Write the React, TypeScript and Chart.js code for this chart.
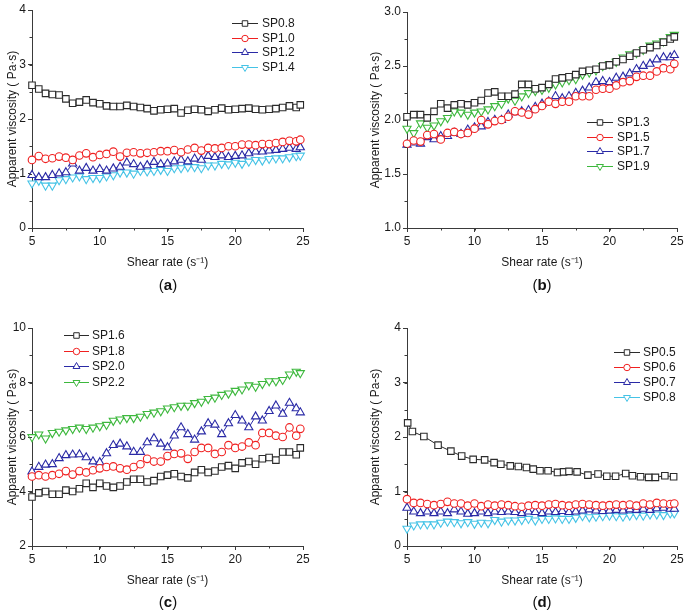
import React, { useEffect, useRef } from "react";
import { Chart, registerables } from "chart.js";

Chart.register(...registerables);

const FONT = "'Liberation Sans', Arial, Helvetica, sans-serif";
Chart.defaults.font.family = FONT;
Chart.defaults.font.size = 12;
Chart.defaults.color = "#1a1a1a";

const AX = "#3a3a3a";
const BLACK = "#2b2b2b";
const RED = "#f02020";
const BLUE = "#2a2aa6";
const CYAN = "#45c3e6";
const GREEN = "#3db83d";

// ---------- data ----------
const shearRate = [5.0, 5.5, 6.0, 6.5, 7.0, 7.5, 8.0, 8.5, 9.0, 9.5, 10.0, 10.5, 11.0, 11.5, 12.0, 12.5, 13.0, 13.5, 14.0, 14.5, 15.0, 15.5, 16.0, 16.5, 17.0, 17.5, 18.0, 18.5, 19.0, 19.5, 20.0, 20.5, 21.0, 21.5, 22.0, 22.5, 23.0, 23.5, 24.0, 24.5, 24.8];
const shearRateD05 = [5.05, 5.4, 6.25, 7.3, 8.25, 9.05, 9.9, 10.75, 11.45, 11.95, 12.65, 13.25, 13.85, 14.35, 14.85, 15.45, 16.15, 16.6, 17.0, 17.6, 18.4, 19.15, 19.8, 20.45, 21.2, 21.7, 22.3, 22.9, 23.4, 24.1, 24.75];

// (a)
const aNames = ["SP0.8", "SP1.0", "SP1.2", "SP1.4"];
const aSP08 = [2.62, 2.55, 2.47, 2.45, 2.44, 2.37, 2.29, 2.31, 2.35, 2.30, 2.28, 2.24, 2.23, 2.23, 2.25, 2.23, 2.21, 2.19, 2.15, 2.17, 2.18, 2.19, 2.11, 2.16, 2.18, 2.17, 2.14, 2.17, 2.20, 2.17, 2.18, 2.19, 2.20, 2.18, 2.17, 2.18, 2.19, 2.21, 2.24, 2.21, 2.26];
const aSP10 = [1.25, 1.32, 1.27, 1.28, 1.31, 1.29, 1.25, 1.33, 1.37, 1.30, 1.34, 1.36, 1.40, 1.31, 1.38, 1.39, 1.37, 1.38, 1.39, 1.41, 1.41, 1.43, 1.39, 1.44, 1.47, 1.42, 1.47, 1.46, 1.47, 1.50, 1.50, 1.53, 1.53, 1.52, 1.54, 1.54, 1.56, 1.58, 1.60, 1.59, 1.62];
const aSP12 = [0.97, 0.93, 0.93, 0.97, 1.00, 1.02, 1.18, 1.05, 1.10, 1.05, 1.08, 1.05, 1.09, 1.12, 1.20, 1.17, 1.12, 1.15, 1.21, 1.17, 1.18, 1.22, 1.25, 1.22, 1.27, 1.25, 1.32, 1.30, 1.33, 1.30, 1.32, 1.33, 1.37, 1.40, 1.40, 1.42, 1.43, 1.45, 1.47, 1.45, 1.48];
const aSP14 = [0.82, 0.87, 0.78, 0.78, 0.88, 0.90, 0.93, 0.95, 0.90, 0.92, 0.92, 0.95, 0.97, 1.02, 1.02, 1.00, 1.05, 1.04, 1.05, 1.07, 1.05, 1.10, 1.10, 1.12, 1.12, 1.10, 1.15, 1.15, 1.18, 1.17, 1.20, 1.18, 1.22, 1.25, 1.24, 1.27, 1.28, 1.28, 1.30, 1.32, 1.33];

// (b)
const bNames = ["SP1.3", "SP1.5", "SP1.7", "SP1.9"];
const bSP13 = [2.03, 2.05, 2.05, 2.02, 2.08, 2.15, 2.11, 2.14, 2.15, 2.14, 2.16, 2.18, 2.25, 2.26, 2.22, 2.22, 2.24, 2.33, 2.33, 2.29, 2.30, 2.33, 2.38, 2.39, 2.40, 2.42, 2.45, 2.46, 2.47, 2.50, 2.51, 2.54, 2.56, 2.59, 2.62, 2.65, 2.67, 2.69, 2.72, 2.75, 2.77];
const bSP15 = [1.78, 1.81, 1.80, 1.86, 1.87, 1.82, 1.88, 1.89, 1.87, 1.88, 1.92, 2.00, 1.96, 1.99, 2.00, 2.03, 2.08, 2.07, 2.05, 2.10, 2.13, 2.17, 2.15, 2.17, 2.17, 2.22, 2.22, 2.22, 2.28, 2.29, 2.29, 2.32, 2.35, 2.36, 2.40, 2.41, 2.41, 2.45, 2.48, 2.47, 2.52];
const bSP17 = [1.77, 1.79, 1.78, 1.84, 1.82, 1.85, 1.85, 1.88, 1.87, 1.91, 1.93, 1.94, 1.98, 2.00, 2.00, 2.05, 2.07, 2.08, 2.09, 2.12, 2.15, 2.17, 2.22, 2.20, 2.22, 2.25, 2.27, 2.30, 2.35, 2.36, 2.35, 2.39, 2.40, 2.43, 2.47, 2.50, 2.52, 2.56, 2.58, 2.58, 2.60];
const bSP19 = [1.92, 1.88, 1.97, 1.93, 1.95, 1.99, 2.02, 2.08, 2.07, 2.05, 2.07, 2.08, 2.10, 2.13, 2.15, 2.20, 2.18, 2.22, 2.25, 2.27, 2.28, 2.30, 2.33, 2.35, 2.37, 2.38, 2.42, 2.44, 2.46, 2.50, 2.52, 2.54, 2.58, 2.61, 2.62, 2.65, 2.69, 2.71, 2.73, 2.77, 2.79];

// (c)
const cNames = ["SP1.6", "SP1.8", "SP2.0", "SP2.2"];
const cSP16 = [3.80, 3.95, 4.00, 3.90, 3.90, 4.05, 4.00, 4.10, 4.30, 4.15, 4.30, 4.20, 4.15, 4.20, 4.35, 4.45, 4.45, 4.35, 4.40, 4.55, 4.60, 4.65, 4.55, 4.50, 4.70, 4.80, 4.70, 4.75, 4.90, 4.95, 4.85, 5.05, 5.10, 5.00, 5.20, 5.25, 5.15, 5.45, 5.45, 5.35, 5.60];
const cSP18 = [4.55, 4.60, 4.55, 4.60, 4.65, 4.75, 4.62, 4.75, 4.70, 4.78, 4.85, 4.90, 4.92, 4.85, 4.80, 4.90, 5.00, 5.20, 5.10, 5.10, 5.30, 5.38, 5.40, 5.20, 5.45, 5.60, 5.60, 5.38, 5.45, 5.70, 5.60, 5.65, 5.80, 5.70, 6.15, 6.15, 6.05, 6.00, 6.35, 6.05, 6.30];
const cSP20 = [4.73, 4.90, 4.98, 5.00, 5.22, 5.33, 5.35, 5.36, 5.25, 5.10, 5.07, 5.40, 5.70, 5.75, 5.65, 5.45, 5.45, 5.80, 5.95, 5.75, 5.62, 6.05, 6.35, 6.10, 5.90, 6.20, 6.50, 6.45, 6.10, 6.50, 6.80, 6.60, 6.35, 6.75, 6.60, 6.95, 7.15, 6.85, 7.25, 7.05, 6.90];
const cSP22 = [6.00, 6.10, 5.95, 6.15, 6.20, 6.25, 6.30, 6.35, 6.30, 6.35, 6.40, 6.45, 6.60, 6.65, 6.70, 6.70, 6.75, 6.85, 6.90, 6.95, 7.05, 7.10, 7.15, 7.15, 7.25, 7.30, 7.40, 7.45, 7.55, 7.60, 7.70, 7.75, 7.90, 7.85, 7.95, 8.05, 8.05, 8.10, 8.30, 8.40, 8.35];

// (d)
const dNames = ["SP0.5", "SP0.6", "SP0.7", "SP0.8"];
const dSP05 = [2.26, 2.10, 2.01, 1.85, 1.74, 1.65, 1.59, 1.58, 1.53, 1.50, 1.47, 1.46, 1.44, 1.41, 1.38, 1.38, 1.35, 1.36, 1.37, 1.36, 1.30, 1.32, 1.28, 1.28, 1.33, 1.29, 1.27, 1.26, 1.26, 1.29, 1.27];
const dSP06 = [0.86, 0.79, 0.79, 0.77, 0.75, 0.77, 0.81, 0.78, 0.78, 0.74, 0.78, 0.73, 0.76, 0.74, 0.76, 0.75, 0.73, 0.72, 0.74, 0.75, 0.74, 0.76, 0.77, 0.75, 0.74, 0.76, 0.77, 0.76, 0.75, 0.74, 0.75, 0.76, 0.75, 0.76, 0.74, 0.78, 0.76, 0.79, 0.78, 0.77, 0.78];
const dSP07 = [0.70, 0.63, 0.60, 0.63, 0.60, 0.63, 0.60, 0.67, 0.63, 0.59, 0.60, 0.63, 0.60, 0.63, 0.62, 0.63, 0.62, 0.60, 0.63, 0.62, 0.60, 0.63, 0.62, 0.64, 0.62, 0.63, 0.65, 0.67, 0.65, 0.64, 0.65, 0.66, 0.65, 0.67, 0.66, 0.68, 0.66, 0.69, 0.70, 0.68, 0.68];
const dSP08 = [0.32, 0.38, 0.40, 0.40, 0.40, 0.43, 0.45, 0.44, 0.42, 0.44, 0.41, 0.43, 0.42, 0.48, 0.45, 0.47, 0.47, 0.48, 0.50, 0.47, 0.50, 0.50, 0.51, 0.50, 0.50, 0.52, 0.55, 0.53, 0.54, 0.55, 0.56, 0.55, 0.54, 0.56, 0.57, 0.56, 0.58, 0.58, 0.57, 0.60, 0.60];

const yTicksA = [0, 4, 1, 0.5];
const yTicksB = [1, 3, 0.5, 0.25];
const yTicksC = [2, 10, 2, 1];
const yTicksD = [0, 4, 1, 0.5];

// ---------- styling ----------
const MARKERS = [
  { pointStyle: "rect", rotation: 0, radius: 4.6 },
  { pointStyle: "circle", rotation: 0, radius: 3.8 },
  { pointStyle: "triangle", rotation: 0, radius: 4.7 },
  { pointStyle: "triangle", rotation: 180, radius: 4.7 },
];

function markerPath(ctx: CanvasRenderingContext2D, style: string, rotation: number, r: number, x: number, y: number) {
  ctx.beginPath();
  if (style === "rect") {
    const s = r * Math.SQRT1_2;
    ctx.rect(x - s, y - s, 2 * s, 2 * s);
  } else if (style === "circle") {
    ctx.arc(x, y, r, 0, Math.PI * 2);
  } else {
    let rad = (rotation * Math.PI) / 180;
    for (let k = 0; k < 3; k++) {
      const px = x + Math.sin(rad) * r;
      const py = y - Math.cos(rad) * r;
      if (k === 0) ctx.moveTo(px, py);
      else ctx.lineTo(px, py);
      rad += (2 * Math.PI) / 3;
    }
    ctx.closePath();
  }
}

const innerLegend = {
  id: "innerLegend",
  afterDraw(chart: any, _args: any, opts: any) {
    const ctx: CanvasRenderingContext2D = chart.ctx;
    ctx.save();
    chart.data.datasets.forEach((ds: any, i: number) => {
      const y = Math.round(opts.y0 + i * opts.dy) + 0.5;
      ctx.strokeStyle = ds.borderColor;
      ctx.lineWidth = 1;
      ctx.beginPath();
      ctx.moveTo(opts.x0, y);
      ctx.lineTo(opts.x1, y);
      ctx.stroke();
      markerPath(ctx, ds.pointStyle, ds.pointRotation || 0, ds.pointRadius * 0.85, (opts.x0 + opts.x1) / 2, y);
      ctx.fillStyle = "#fff";
      ctx.fill();
      ctx.stroke();
      ctx.fillStyle = "#1a1a1a";
      ctx.font = `12px ${FONT}`;
      ctx.textAlign = "left";
      ctx.textBaseline = "middle";
      ctx.fillText(ds.label, opts.tx, y);
    });
    ctx.restore();
  },
};

const minorTicks = {
  id: "minorTicks",
  afterDraw(chart: any, _args: any, opts: any) {
    const ctx: CanvasRenderingContext2D = chart.ctx;
    const xs = chart.scales.x;
    const ys = chart.scales.y;
    ctx.save();
    ctx.strokeStyle = AX;
    ctx.lineWidth = 1;
    ctx.beginPath();
    for (let v = xs.min; v <= xs.max + 1e-9; v += opts.x) {
      const px = Math.round(xs.getPixelForValue(v)) + 0.5;
      ctx.moveTo(px, xs.top);
      ctx.lineTo(px, xs.top + 2.5);
    }
    for (let v = ys.min; v <= ys.max + 1e-9; v += opts.y) {
      const py = Math.round(ys.getPixelForValue(v)) + 0.5;
      ctx.moveTo(ys.right, py);
      ctx.lineTo(ys.right - 2.5, py);
    }
    ctx.stroke();
    ctx.restore();
  },
};

type Series = { name: string; xs: number[]; ys: number[]; color: string };
type PanelDef = {
  id: string;
  left: number;
  top: number;
  w: number;
  h: number;
  padding: { left: number; top: number; right: number; bottom: number };
  yAxisW: number;
  yTitlePad: number;
  yTitle: string;
  yRange: number[];
  yDecimals: number;
  legend: { x0: number; x1: number; tx: number; y0: number; dy: number };
  labelX: number;
  labelY: number;
  series: Series[];
};

const Y_TITLE = "Apparent viscosity ( Pa\u00b7s)";

const PANELS: PanelDef[] = [
  {
    id: "a", left: 0, top: 0, w: 340, h: 280,
    padding: { left: 0, top: 10, right: 37, bottom: 0 },
    yAxisW: 32, yTitlePad: 5, yTitle: Y_TITLE, yRange: yTicksA, yDecimals: 0,
    legend: { x0: 232, x1: 258, tx: 262, y0: 23.3, dy: 14.4 },
    labelX: 168, labelY: 285,
    series: [
      { name: aNames[0], xs: shearRate, ys: aSP08, color: BLACK },
      { name: aNames[1], xs: shearRate, ys: aSP10, color: RED },
      { name: aNames[2], xs: shearRate, ys: aSP12, color: BLUE },
      { name: aNames[3], xs: shearRate, ys: aSP14, color: CYAN },
    ],
  },
  {
    id: "b", left: 340, top: 0, w: 345, h: 280,
    padding: { left: 0, top: 12, right: 8, bottom: 0 },
    yAxisW: 67, yTitlePad: 28, yTitle: Y_TITLE, yRange: yTicksB, yDecimals: 1,
    legend: { x0: 247, x1: 273, tx: 277, y0: 122, dy: 14.7 },
    labelX: 542, labelY: 285,
    series: [
      { name: bNames[0], xs: shearRate, ys: bSP13, color: BLACK },
      { name: bNames[1], xs: shearRate, ys: bSP15, color: RED },
      { name: bNames[2], xs: shearRate, ys: bSP17, color: BLUE },
      { name: bNames[3], xs: shearRate, ys: bSP19, color: GREEN },
    ],
  },
  {
    id: "c", left: 0, top: 318, w: 340, h: 280,
    padding: { left: 0, top: 10, right: 37, bottom: 0 },
    yAxisW: 32, yTitlePad: 5, yTitle: Y_TITLE, yRange: yTicksC, yDecimals: 0,
    legend: { x0: 64, x1: 89, tx: 92, y0: 17, dy: 15.5 },
    labelX: 168, labelY: 602,
    series: [
      { name: cNames[0], xs: shearRate, ys: cSP16, color: BLACK },
      { name: cNames[1], xs: shearRate, ys: cSP18, color: RED },
      { name: cNames[2], xs: shearRate, ys: cSP20, color: BLUE },
      { name: cNames[3], xs: shearRate, ys: cSP22, color: GREEN },
    ],
  },
  {
    id: "d", left: 340, top: 318, w: 345, h: 280,
    padding: { left: 0, top: 10, right: 8, bottom: 0 },
    yAxisW: 67, yTitlePad: 28, yTitle: "Apparent viscosity ( Pa-s)", yRange: yTicksD, yDecimals: 0,
    legend: { x0: 274, x1: 300, tx: 303, y0: 34, dy: 15 },
    labelX: 542, labelY: 602,
    series: [
      { name: dNames[0], xs: shearRateD05, ys: dSP05, color: BLACK },
      { name: dNames[1], xs: shearRate, ys: dSP06, color: RED },
      { name: dNames[2], xs: shearRate, ys: dSP07, color: BLUE },
      { name: dNames[3], xs: shearRate, ys: dSP08, color: CYAN },
    ],
  },
];

function Panel({ p }: { p: PanelDef }) {
  const ref = useRef<HTMLCanvasElement>(null);
  useEffect(() => {
    const [ymin, ymax, ystep, yminor] = p.yRange;
    const chart = new Chart(ref.current as HTMLCanvasElement, {
      type: "scatter",
      data: {
        datasets: p.series.map((s, i) => ({
          label: s.name,
          data: s.xs.map((x, j) => ({ x, y: s.ys[j] })),
          showLine: true,
          borderColor: s.color,
          borderWidth: 1,
          backgroundColor: "#fff",
          pointStyle: MARKERS[i].pointStyle as any,
          pointRotation: MARKERS[i].rotation,
          pointRadius: MARKERS[i].radius,
          pointHoverRadius: MARKERS[i].radius,
          pointBorderWidth: 1.1,
          pointBackgroundColor: "#fff",
          pointBorderColor: s.color,
          tension: 0,
          clip: false as any,
        })),
      },
      options: {
        responsive: false,
        animation: false,
        events: [],
        layout: { autoPadding: false, padding: p.padding } as any,
        plugins: {
          legend: { display: false },
          tooltip: { enabled: false },
          innerLegend: p.legend,
          minorTicks: { x: 2.5, y: yminor },
        } as any,
        scales: {
          x: {
            type: "linear",
            min: 5,
            max: 25,
            afterFit: (s: any) => {
              s.height = 52;
              s.paddingLeft = 0;
              s.paddingRight = 0;
            },
            ticks: { stepSize: 5, autoSkip: false, maxRotation: 0, padding: 2, color: "#1a1a1a", font: { size: 12 } },
            grid: { display: true, drawOnChartArea: false, drawTicks: true, tickLength: 4, color: AX, tickColor: AX },
            border: { display: true, color: AX, width: 1 },
            title: { display: true, text: "Shear rate (s\u207b\u00b9)", color: "#1a1a1a", font: { size: 12 }, padding: { top: 0, bottom: 10 } },
          },
          y: {
            type: "linear",
            min: ymin,
            max: ymax,
            afterFit: (s: any) => {
              s.width = p.yAxisW;
              s.paddingTop = 0;
              s.paddingBottom = 0;
            },
            ticks: {
              stepSize: ystep,
              autoSkip: false,
              padding: 2,
              color: "#1a1a1a",
              font: { size: 12 },
              callback: (v: any) => Number(v).toFixed(p.yDecimals),
            },
            grid: { display: true, drawOnChartArea: false, drawTicks: true, tickLength: 4, color: AX, tickColor: AX },
            border: { display: true, color: AX, width: 1 },
            title: { display: true, text: p.yTitle, color: "#1a1a1a", font: { size: 12 }, padding: { top: p.yTitlePad, bottom: 0 } },
          },
        },
      },
      plugins: [minorTicks, innerLegend],
    });
    return () => chart.destroy();
  }, [p]);

  return (
    <canvas
      ref={ref}
      width={p.w}
      height={p.h}
      style={{ position: "absolute", left: p.left, top: p.top, width: p.w, height: p.h }}
    />
  );
}

export default function App() {
  return (
    <div
      style={{
        position: "absolute",
        left: 0,
        top: 0,
        width: 685,
        height: 615,
        background: "#fff",
        overflow: "hidden",
        fontFamily: FONT,
      }}
    >
      {PANELS.map((p) => (
        <Panel key={p.id} p={p} />
      ))}
      {PANELS.map((p) => (
        <div
          key={"lab" + p.id}
          style={{
            position: "absolute",
            left: p.labelX - 30,
            top: p.labelY - 9,
            width: 60,
            textAlign: "center",
            fontSize: 15,
            lineHeight: "18px",
            color: "#111",
          }}
        >
          (<b>{p.id}</b>)
        </div>
      ))}
    </div>
  );
}
